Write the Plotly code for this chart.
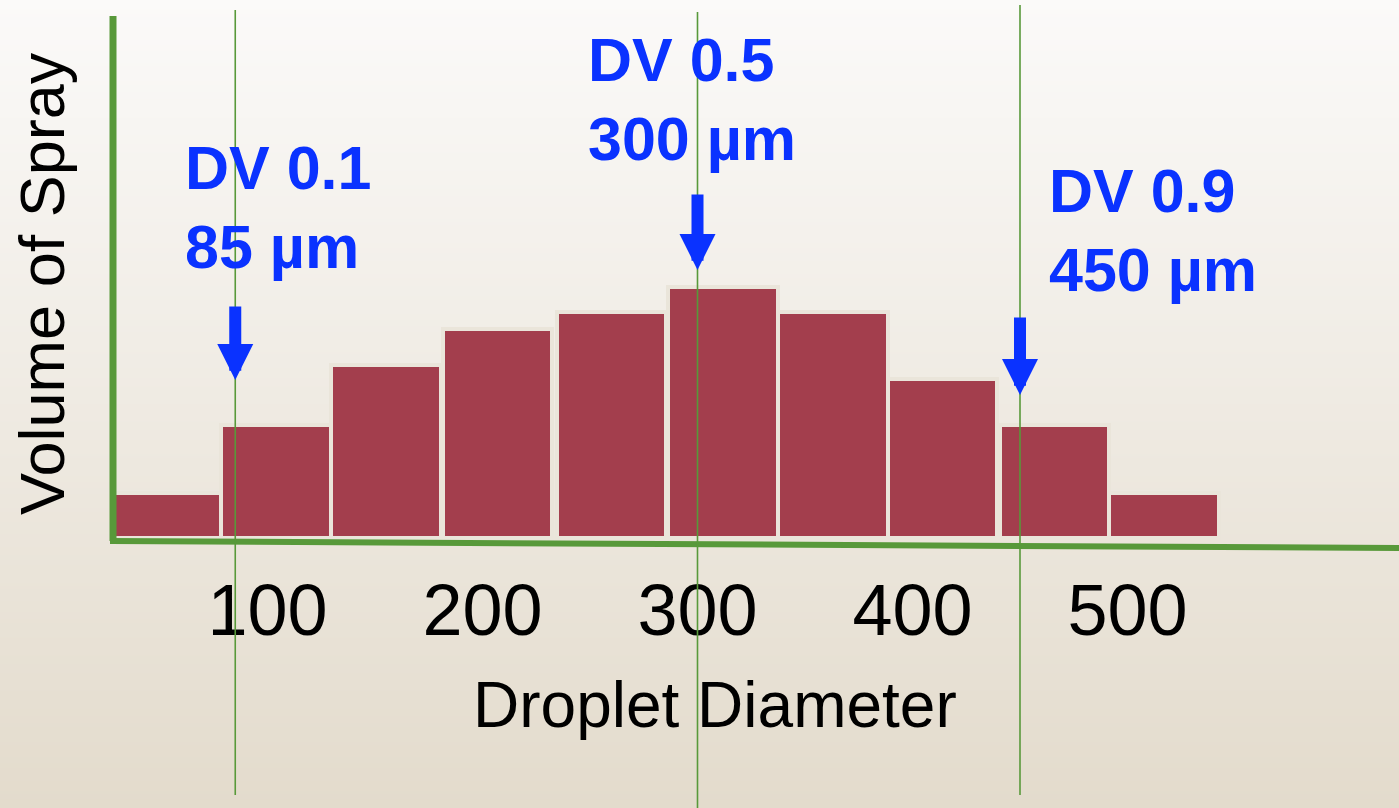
import base64
import struct
import zlib

import plotly.graph_objects as go

# Droplet size bins (µm) and the share of spray volume in each bin
bin_centers = [54, 104, 155, 207, 260, 312, 363, 414, 466, 517]
bin_width = 51
volume = [4.5, 11.3, 17.3, 20.9, 22.6, 25.1, 22.6, 15.9, 11.3, 4.5]

# Axis ticks
tick_values = [100, 200, 300, 400, 500]
tick_labels = ["100", "200", "300", "400", "500"]

# Volume median diameters
dv_fractions = ["0.1", "0.5", "0.9"]
dv_diameters = [85, 300, 450]

W, H = 1399, 808
X_RANGE = [-24.42, 626.28]
Y_RANGE = [-27.0, 53.8]

GREEN = "#58993A"
BLUE = "#0A32FF"
BAR = "#A33E4D"
BAR_EDGE = "#EAE5DA"
FONT = "Liberation Sans, Arial, sans-serif"


def gradient_png(height, top, bottom):
    """A 1-pixel-wide PNG fading from `top` to `bottom`, as a data URI."""
    rows = b""
    for i in range(height):
        t = i / (height - 1)
        px = bytes(round(a + (b - a) * t) for a, b in zip(top, bottom))
        rows += b"\x00" + px

    def chunk(tag, data):
        body = tag + data
        return struct.pack(">I", len(data)) + body + struct.pack(">I", zlib.crc32(body) & 0xFFFFFFFF)

    png = b"\x89PNG\r\n\x1a\n"
    png += chunk(b"IHDR", struct.pack(">IIBBBBB", 1, height, 8, 2, 0, 0, 0))
    png += chunk(b"IDAT", zlib.compress(rows))
    png += chunk(b"IEND", b"")
    return "data:image/png;base64," + base64.b64encode(png).decode()


fig = go.Figure()

fig.add_trace(go.Bar(
    x=bin_centers, y=volume, width=bin_width,
    marker=dict(color=BAR, line=dict(color=BAR_EDGE, width=4)),
    hoverinfo="skip", showlegend=False,
))

shapes = []
# axis lines
shapes.append(dict(type="line", xref="paper", yref="paper",
                   x0=113 / W, x1=113 / W, y0=1 - 541 / H, y1=1 - 16 / H,
                   line=dict(color=GREEN, width=7), layer="above"))
shapes.append(dict(type="line", xref="paper", yref="paper",
                   x0=110 / W, x1=1.0, y0=1 - 541 / H, y1=1 - 548 / H,
                   line=dict(color=GREEN, width=6), layer="above"))

# DV marker lines, tips of arrows and label placement
line_extent = [(795, 10), (808, 12), (795, 5)]
arrow_tip = [15.8, 26.8, 14.3]
arrow_len = [-75, -77, -79]
label_pos = [(183, 207), (586, 99), (1047, 231)]

annotations = []
for frac, dia, ext, tip, alen, pos in zip(dv_fractions, dv_diameters, line_extent,
                                          arrow_tip, arrow_len, label_pos):
    shapes.append(dict(type="line", xref="x", yref="paper",
                       x0=dia, x1=dia, y0=1 - ext[0] / H, y1=1 - ext[1] / H,
                       line=dict(color=GREEN, width=1.6), layer="above"))
    annotations.append(dict(x=dia, y=tip, xref="x", yref="y", text="",
                            showarrow=True, ax=0, ay=alen,
                            arrowhead=2, arrowwidth=12, arrowsize=0.6,
                            arrowcolor=BLUE, standoff=0))
    annotations.append(dict(x=pos[0] / W, y=1 - pos[1] / H, xref="paper", yref="paper",
                            xanchor="left", yanchor="middle", align="left",
                            text=f"<b>DV {frac}<br>{dia} µm</b>", showarrow=False,
                            font=dict(family=FONT, size=61, color=BLUE)))

annotations.append(dict(x=715 / W, y=1 - 705 / H, xref="paper", yref="paper",
                        text="Droplet Diameter", showarrow=False,
                        xanchor="center", yanchor="middle",
                        font=dict(family=FONT, size=64, color="black")))
annotations.append(dict(x=42 / W, y=1 - 284 / H, xref="paper", yref="paper",
                        text="Volume of Spray", showarrow=False, textangle=-90,
                        xanchor="center", yanchor="middle",
                        font=dict(family=FONT, size=63, color="black")))

fig.update_layout(
    width=W, height=H,
    margin=dict(l=0, r=0, t=0, b=0),
    paper_bgcolor="#EEEAE2", plot_bgcolor="rgba(0,0,0,0)",
    images=[dict(source=gradient_png(H, (251, 250, 249), (227, 219, 204)),
                 xref="paper", yref="paper", x=0, y=1, sizex=1, sizey=1,
                 xanchor="left", yanchor="top", sizing="stretch", layer="below")],
    xaxis=dict(range=X_RANGE, domain=[0, 1], anchor="free", position=1 - 562 / H,
               tickvals=tick_values, ticktext=tick_labels, ticks="",
               showline=False, showgrid=False, zeroline=False,
               tickfont=dict(family=FONT, size=72, color="black")),
    yaxis=dict(range=Y_RANGE, domain=[0, 1], visible=False,
               showgrid=False, zeroline=False),
    shapes=shapes, annotations=annotations,
    bargap=0, showlegend=False,
)

fig.write_html("out.html")
